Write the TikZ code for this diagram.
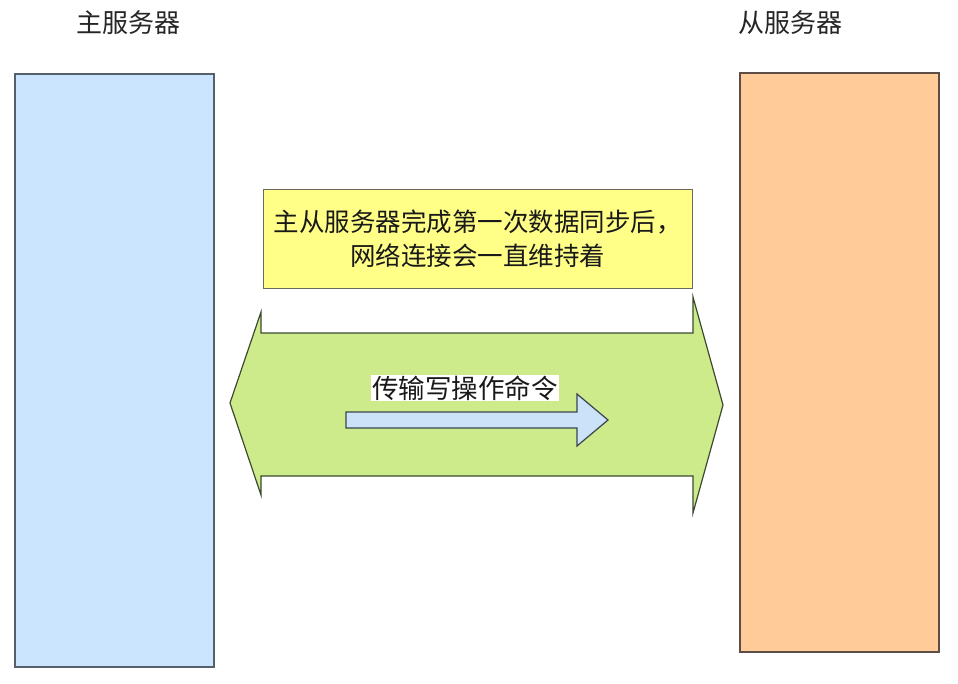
\documentclass[tikz,border=0pt]{standalone}
\usepackage{fontspec}
\setmainfont{Noto Sans CJK SC}
\definecolor{masterfill}{HTML}{CCE5FF}
\definecolor{masterdraw}{HTML}{56606C}
\definecolor{slavefill}{HTML}{FFCC99}
\definecolor{slavedraw}{HTML}{5C4E46}
\definecolor{notefill}{HTML}{FFFF88}
\definecolor{notedraw}{HTML}{6A6A5A}
\definecolor{linkfill}{HTML}{CDEB8B}
\definecolor{linkdraw}{HTML}{3C4A30}
\definecolor{cmdfill}{HTML}{CCE2F8}
\definecolor{cmddraw}{HTML}{3A4450}
\tikzset{
  server/.style={line width=1.3pt},
  title/.style={font=\fontsize{26}{30}\selectfont, text=black!85},
  label/.style={font=\fontsize{25.5}{34}\selectfont, text=black!90}
}
\begin{document}
\begin{tikzpicture}[x=1pt,y=-1pt]
\useasboundingbox[fill=white] (0,0) rectangle (958,683);
% servers
\draw[server, fill=masterfill, draw=masterdraw] (15,74) rectangle (214,667);
\draw[server, fill=slavefill, draw=slavedraw] (740,73) rectangle (939,652);
\node[title] (mastertitle) at (128,23) {主服务器};
\node[title] (slavetitle) at (790,23) {从服务器};
% note
\node[label, draw=notedraw, fill=notefill, line width=1pt, minimum width=429pt, minimum height=99pt, align=center, inner sep=0pt] (note) at (477.5,238.5) {主从服务器完成第一次数据同步后，\\网络连接会一直维持着};
% big double arrow
\draw[fill=linkfill, draw=linkdraw, line width=1.2pt, line join=miter]
  (230,403) -- (261,312) -- (261,333) -- (693,333) -- (693,297) -- (723,405)
  -- (693,513) -- (693,476) -- (261,476) -- (261,495) -- cycle;
% small arrow
\draw[fill=cmdfill, draw=cmddraw, line width=1.2pt]
  (346,412) -- (577,412) -- (577,394) -- (608,420) -- (577,446) -- (577,428) -- (346,428) -- cycle;
\node[label, font=\fontsize{26.5}{30}\selectfont, fill=white, inner sep=1pt] (cmd) at (465,388) {传输写操作命令};
\end{tikzpicture}
\end{document}
